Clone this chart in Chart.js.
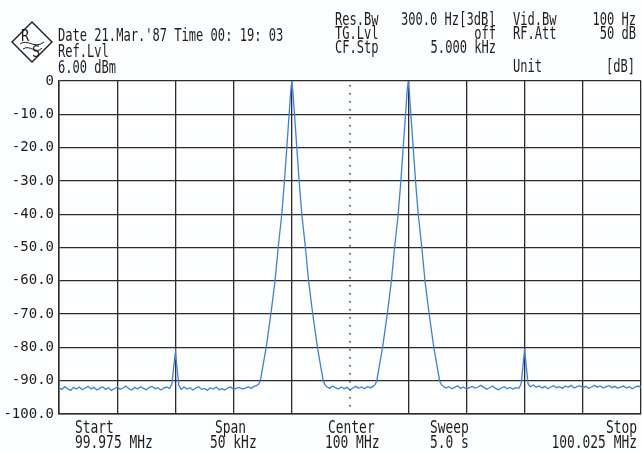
<!DOCTYPE html>
<html>
<head>
<meta charset="utf-8">
<script src="https://cdn.jsdelivr.net/npm/chart.js@4/dist/chart.umd.min.js"></script>
<style>
  html, body { margin: 0; padding: 0; background: #fdfeff; }
  #wrap { position: relative; width: 642px; height: 453px; }
</style>
</head>
<body>
<div id="wrap"><canvas id="c" width="642" height="453"></canvas></div>
<script>
// frequency offset from centre (kHz) and trace level (dB)
const freqKHz = [
  -25.00,-24.75,-24.50,-24.25,-24.00,-23.75,-23.50,-23.25,-23.00,-22.75,
  -22.50,-22.25,-22.00,-21.75,-21.50,-21.25,-21.00,-20.75,-20.50,-20.25,
  -20.00,-19.75,-19.50,-19.25,-19.00,-18.75,-18.50,-18.25,-18.00,-17.75,
  -17.50,-17.25,-17.00,-16.75,-16.50,-16.25,-16.00,-15.75,-15.50,-15.30,
  -15.15,-15.00,-14.85,-14.70,-14.50,-14.25,-14.00,-13.75,-13.50,-13.25,
  -13.00,-12.75,-12.50,-12.25,-12.00,-11.75,-11.50,-11.25,-11.00,-10.75,
  -10.50,-10.25,-10.00,-9.75,-9.50,-9.25,-9.00,-8.75,-8.50,-8.25,
  -8.00,-7.85,-7.70,-7.50,-7.20,-6.80,-6.44,-6.17,-5.86,-5.63,
  -5.43,-5.23,-5.10,-5.00,-4.90,-4.77,-4.57,-4.37,-4.14,-3.83,
  -3.56,-3.20,-2.80,-2.50,-2.30,-2.15,-2.00,-1.75,-1.50,-1.25,
  -1.00,-0.75,-0.50,-0.25,0.00,0.25,0.50,0.75,1.00,1.25,
  1.50,1.75,2.00,2.15,2.30,2.50,2.80,3.20,3.56,3.83,
  4.14,4.37,4.57,4.77,4.90,5.00,5.10,5.23,5.43,5.63,
  5.86,6.17,6.44,6.80,7.20,7.50,7.70,7.85,8.00,8.25,
  8.50,8.75,9.00,9.25,9.50,9.75,10.00,10.25,10.50,10.75,
  11.00,11.25,11.50,11.75,12.00,12.25,12.50,12.75,13.00,13.25,
  13.50,13.75,14.00,14.25,14.50,14.70,14.85,15.00,15.15,15.30,
  15.50,15.75,16.00,16.25,16.50,16.75,17.00,17.25,17.50,17.75,
  18.00,18.25,18.50,18.75,19.00,19.25,19.50,19.75,20.00,20.25,
  20.50,20.75,21.00,21.25,21.50,21.75,22.00,22.25,22.50,22.75,
  23.00,23.25,23.50,23.75,24.00,24.25,24.50,24.75,25.00
];
const levelDb = [
  -92.1,-92.6,-91.8,-92.4,-92.9,-92.0,-92.5,-91.9,-92.7,-92.2,
  -91.7,-92.5,-92.0,-92.8,-92.3,-91.8,-92.6,-92.1,-92.9,-92.4,
  -91.9,-92.6,-92.2,-91.6,-92.4,-92.8,-92.0,-92.5,-91.8,-92.3,
  -92.7,-92.0,-91.7,-92.4,-92.1,-92.8,-92.2,-91.9,-92.3,-91.0,
  -86.0,-81.5,-86.5,-91.5,-92.6,-91.9,-92.5,-92.1,-92.8,-92.2,
  -91.8,-92.6,-92.3,-92.9,-92.1,-92.5,-91.9,-92.7,-92.4,-92.8,
  -92.2,-91.9,-92.6,-92.3,-92.0,-92.5,-92.2,-91.8,-92.3,-91.7,
  -91.4,-91.0,-90.0,-86.0,-80.0,-70.0,-60.0,-50.0,-40.0,-30.0,
  -20.0,-10.0,-3.5,0.0,-3.5,-10.0,-20.0,-30.0,-40.0,-50.0,
  -60.0,-70.0,-80.0,-86.0,-90.0,-91.2,-91.8,-92.3,-91.6,-92.1,
  -92.5,-91.9,-92.4,-92.0,-92.8,-92.2,-91.7,-92.3,-91.9,-92.4,
  -91.8,-92.1,-91.7,-91.2,-90.0,-86.0,-80.0,-70.0,-60.0,-50.0,
  -40.0,-30.0,-20.0,-10.0,-3.5,0.0,-3.5,-10.0,-20.0,-30.0,
  -40.0,-50.0,-60.0,-70.0,-80.0,-86.0,-90.0,-91.2,-91.6,-92.2,
  -91.8,-92.4,-92.0,-91.5,-92.3,-91.9,-92.5,-92.1,-91.7,-92.2,
  -91.9,-91.4,-92.0,-92.6,-92.1,-91.6,-92.3,-92.7,-92.2,-91.8,
  -92.4,-92.0,-92.5,-92.1,-92.3,-91.0,-86.0,-80.5,-86.0,-91.0,
  -91.8,-91.3,-92.0,-91.6,-92.2,-91.7,-92.4,-91.9,-91.5,-92.1,
  -91.8,-92.3,-91.6,-92.0,-91.4,-92.2,-91.8,-91.5,-92.1,-91.7,
  -92.3,-91.9,-91.4,-92.0,-91.6,-92.2,-91.8,-91.5,-92.1,-91.7,
  -92.3,-91.9,-91.6,-92.2,-91.8,-92.4,-91.9,-91.6,-92.0
];

const headerLeft = ["Date 21.Mar.'87 Time 00: 19: 03", 'Ref.Lvl', '6.00 dBm'];
const footer = [
  ['Start', '99.975 MHz'], ['Span', '50 kHz'], ['Center', '100 MHz'],
  ['Sweep', '5.0 s'], ['Stop', '100.025 MHz']
];

const INK = '#1c1c1c', GRID = '#302b2b', TRACE = '#3f7fdc';
const FONT = "'DejaVu Sans Mono', monospace";

// plotter-style narrow text
function txt(ctx, s, x, y, align, size, sx) {
  ctx.save();
  ctx.translate(x, y);
  ctx.scale(sx || 0.71, 1);
  ctx.font = (size || 17) + 'px ' + FONT;
  ctx.fillStyle = INK;
  ctx.textAlign = align || 'left';
  ctx.textBaseline = 'alphabetic';
  ctx.fillText(s, 0, 0);
  ctx.restore();
}

const annot = {
  id: 'annot',
  beforeDraw(chart) {
    const c = chart.ctx;
    c.save(); c.fillStyle = '#fdfeff'; c.fillRect(0, 0, chart.width, chart.height); c.restore();
  },
  afterDraw(chart) {
    const c = chart.ctx, xs = chart.scales.x, ys = chart.scales.y;
    // dotted centre line
    const cx = xs.getPixelForValue(0);
    c.save(); c.fillStyle = '#3a3a3a';
    for (let y = ys.top + 4; y < ys.bottom; y += 8) c.fillRect(cx - 0.75, y, 1.5, 1.5);
    c.restore();

    // logo
    c.save(); c.strokeStyle = INK; c.lineWidth = 1.4;
    c.beginPath(); c.moveTo(32, 22); c.lineTo(52, 42); c.lineTo(32, 62); c.lineTo(12, 42); c.closePath(); c.stroke();
    c.lineWidth = 1;
    c.beginPath(); c.moveTo(20, 44); c.bezierCurveTo(28, 38, 34, 50, 44, 42); c.stroke();
    c.beginPath(); c.moveTo(23, 49); c.bezierCurveTo(30, 44, 36, 55, 42, 48); c.stroke();
    c.restore();
    txt(c, 'R', 21, 41, 'left', 16, 0.85);
    txt(c, 'S', 32, 57, 'left', 16, 0.85);

    txt(c, headerLeft[0], 58, 41);
    txt(c, headerLeft[1], 58, 57);
    txt(c, headerLeft[2], 58, 73);

    txt(c, 'Res.Bw', 335, 25); txt(c, '300.0 Hz[3dB]', 401, 25); txt(c, 'Vid.Bw', 513, 25); txt(c, '100 Hz', 636, 25, 'right');
    txt(c, 'TG.Lvl', 335, 39); txt(c, 'off', 496, 39, 'right'); txt(c, 'RF.Att', 513, 39); txt(c, '50 dB', 636, 39, 'right');
    txt(c, 'CF.Stp', 335, 53); txt(c, '5.000 kHz', 496, 53, 'right');
    txt(c, 'Unit', 513, 72); txt(c, '[dB]', 635, 72, 'right');

    const fx = [[75, 75, 'left'], [215, 210, 'left'], [328, 325, 'left'], [430, 430, 'left'], [637, 637, 'right']];
    footer.forEach((f, i) => {
      txt(c, f[0], fx[i][0], 433, fx[i][2], 17, 0.76);
      txt(c, f[1], fx[i][1], 448, fx[i][2], 17, 0.76);
    });
  }
};

new Chart(document.getElementById('c').getContext('2d'), {
  type: 'line',
  data: { datasets: [{
    data: freqKHz.map((f, i) => ({ x: f, y: levelDb[i] })),
    borderColor: TRACE, borderWidth: 1.3, pointRadius: 0, tension: 0, fill: false, clip: false
  }]},
  options: {
    responsive: false, animation: false, maintainAspectRatio: false,
    layout: { padding: { left: 0, right: 1, top: 81, bottom: 39 } },
    plugins: { legend: { display: false }, tooltip: { enabled: false } },
    scales: {
      x: {
        type: 'linear', min: -25, max: 25,
        afterFit: s => { s.height = 0; },
        ticks: { display: false, stepSize: 5 },
        grid: { color: ctx => ctx.tick && ctx.tick.value === 0 ? 'rgba(0,0,0,0)' : GRID, lineWidth: 1.3, drawTicks: false },
        border: { display: true, color: GRID, width: 1.5 }
      },
      y: {
        min: -100, max: 0,
        afterFit: s => { s.width = 59; },
        ticks: { stepSize: 10, padding: 5, color: INK, font: { family: FONT, size: 14 },
          callback: v => v === 0 ? '0' : v.toFixed(1) },
        grid: { color: GRID, lineWidth: 1.3, drawTicks: false },
        border: { display: true, color: GRID, width: 1.5 }
      }
    }
  },
  plugins: [annot]
});
</script>
</body>
</html>
